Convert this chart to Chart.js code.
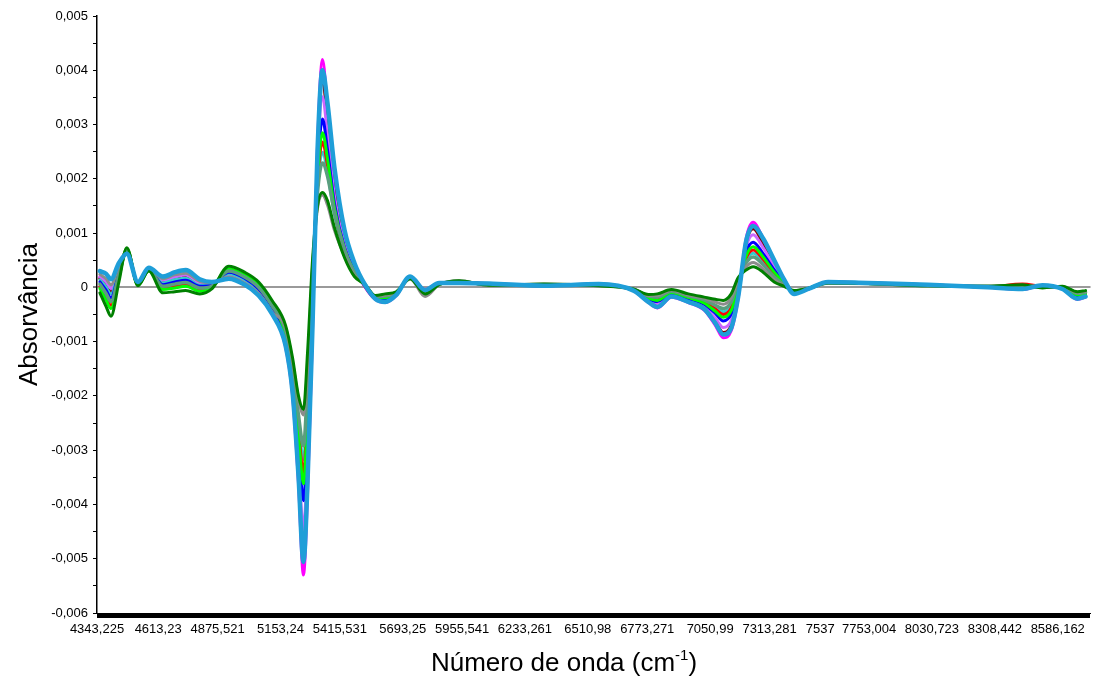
<!DOCTYPE html>
<html lang="pt-BR">
<head>
<meta charset="utf-8">
<title>Absorvância x número de onda</title>
<script src="https://cdn.jsdelivr.net/npm/chart.js@4.4.1/dist/chart.umd.min.js"></script>
<style>
  html, body { margin: 0; padding: 0; background: #fff; }
  canvas { display: block; }
</style>
</head>
<body>
<canvas id="grafico" width="1094" height="676"></canvas>
<script>
// eixo x: número de onda (cm-1) dos pontos lidos
const numeroOnda = [4356, 4383, 4405, 4440, 4475, 4524, 4572, 4634, 4687, 4735, 4797, 4850, 4925, 4995, 5057, 5118,
	5176, 5207, 5233, 5255, 5273, 5295, 5317, 5339, 5361, 5392, 5436, 5480, 5528, 5572, 5616, 5665, 5726, 5792, 5854,
	5942, 6074, 6317, 6559, 6713, 6779, 6818, 6880, 6955, 7025, 7074, 7109, 7144, 7175, 7210, 7241, 7285, 7334, 7378,
	7422, 7484, 7572, 7748, 8013, 8277, 8431, 8519, 8607, 8673, 8709];

const rotulosX = ['4343,225', '4613,23', '4875,521', '5153,24', '5415,531', '5693,25', '5955,541', '6233,261',
	'6510,98', '6773,271', '7050,99', '7313,281', '7537', '7753,004', '8030,723', '8308,442', '8586,162'];

const ticksY = [-0.006, -0.005, -0.004, -0.003, -0.002, -0.001, 0, 0.001, 0.002, 0.003, 0.004, 0.005];

// espectros (2a derivada), um array por amostra
const azulCeu = [0.0003, 0.00025, 0.00015, 0.00045, 0.00062, 0.0001, 0.00036, 0.0002, 0.00028, 0.00032, 0.00015, 0.0001, 0.00016, 0.00005, -0.00015, -0.0005,
	-0.00107, -0.00194, -0.00347, -0.00506, -0.00359, -0.0007, 0.00251, 0.004, 0.0034, 0.0022, 0.00106, 0.00045, 0.00004, -0.00021, -0.00027, -0.00014, 0.0002, -0.00005,
	0.00008, 0.00008, 0.00007, 0.00003, 0.00006, -0.00006, -0.00027, -0.00036, -0.00017, -0.00027, -0.0004, -0.00066, -0.00087, -0.00075, -0.00017, 0.00085, 0.00113,
	0.0009, 0.0005, 0.00014, -0.00012, -0.00003, 0.0001, 0.00008, 0.00005, 0, -0.00003, 0.00004, -0.00003, -0.00021, -0.00017];
const verdeEscuro = [-0.0001, -0.00035, -0.00053, 0.0001, 0.00073, 0.00003, 0.0003, -0.0001, -0.00008, -0.00006, -0.00012, -0.00003, 0.00039, 0.00028, 0.0001, -0.00025,
	-0.0007, -0.0013, -0.002, -0.00225, -0.0012, 0.0005, 0.0015, 0.00175, 0.0016, 0.0011, 0.00055, 0.0002, 0.00005, -0.00015, -0.00012, -0.00008, 0.00016, -0.00012,
	0.00005, 0.00012, 0.00004, 0.00006, 0.00003, -0.00003, -0.00013, -0.00012, -0.00004, -0.00012, -0.00018, -0.00022, -0.00024, -0.00012, 0.00018, 0.00032, 0.00038,
	0.00028, 0.0001, 0.00002, -0.00006, -0.00002, 0.00008, 0.00007, 0.00003, 0.00002, 0.00005, -0.00001, 0.00002, -0.00008, -0.00006];
const cinza = [0.00024, 0.00016, 0.00005, 0.0004, 0.00064, 0.00009, 0.00035, 0.00016, 0.00023, 0.00026, 0.00011, 0.00008, 0.00019, 0.00008, -0.00011, -0.00046,
	-0.00074, -0.00137, -0.00205, -0.00235, -0.00146, 0.00037, 0.00145, 0.0017, 0.00152, 0.00105, 0.00058, 0.00022, 0.00004, -0.00016, -0.00014, -0.00009, 0.00016, -0.00017,
	0.00005, 0.00012, 0.00004, 0.00006, 0.00003, -0.00003, -0.00015, -0.00015, -0.00005, -0.00014, -0.0002, -0.00027, -0.00031, -0.00019, 0.00014, 0.00038, 0.00046,
	0.00034, 0.00014, 0.00003, -0.00007, -0.00002, 0.00008, 0.00007, 0.00003, 0.00002, 0.00004, 0, 0.00001, -0.00009, -0.00007];
const verdeAcinzentado = [0.00006, -0.00011, -0.00026, 0.00024, 0.00069, 0.00006, 0.00032, 0.00002, 0.00006, 0.00009, -0.00001, 0.00002, 0.0003, 0.00019, 0, -0.00035,
	-0.00079, -0.00145, -0.00235, -0.00292, -0.00177, 0.00021, 0.00174, 0.00229, 0.00205, 0.00138, 0.0007, 0.00028, 0.00004, -0.00017, -0.00016, -0.0001, 0.00017, -0.0001,
	0.00006, 0.00011, 0.00005, 0.00005, 0.00004, -0.00004, -0.00016, -0.00018, -0.00007, -0.00016, -0.00023, -0.00033, -0.00039, -0.00027, 0.0001, 0.00045, 0.00056,
	0.00042, 0.00019, 0.00005, -0.00007, -0.00002, 0.00008, 0.00007, 0.00003, 0.00002, 0.00003, 0, 0.00001, -0.00011, -0.00009];
const verdeLimao = [-0.00002, -0.00023, -0.00039, 0.00017, 0.00071, 0.00004, 0.00031, -0.00004, -0.00001, 0.00002, -0.00007, 0, 0.00034, 0.00023, 0.00005, -0.0003,
	-0.00088, -0.00162, -0.00272, -0.00362, -0.00237, -0.00009, 0.002, 0.00285, 0.00237, 0.00146, 0.00071, 0.00029, 0.00003, -0.00018, -0.00019, -0.00011, 0.00018, -0.00008,
	0.00006, 0.0001, 0.00005, 0.00005, 0.00004, -0.00004, -0.0002, -0.00024, -0.0001, -0.00019, -0.00029, -0.00044, -0.00055, -0.00043, 0.00001, 0.00058, 0.00075,
	0.00056, 0.00028, 0.00008, -0.00009, -0.00002, 0.00009, 0.00007, 0.00004, 0.00001, 0.00001, 0.00002, 0, -0.00014, -0.00012];
const vermelho = [0.00002, -0.00017, -0.00033, 0.00021, 0.0007, 0.00005, 0.00032, -0.00001, 0.00003, 0.00005, -0.00004, 0.00001, 0.00032, 0.00021, 0.00002, -0.00032,
	-0.00085, -0.00157, -0.00261, -0.00341, -0.00219, 0.00001, 0.00192, 0.00268, 0.00225, 0.0014, 0.00068, 0.00028, 0.00003, -0.00018, -0.00018, -0.00011, 0.00018, -0.00009,
	0.00006, 0.0001, 0.00005, 0.00005, 0.00004, -0.00004, -0.00019, -0.00022, -0.00009, -0.00018, -0.00027, -0.0004, -0.0005, -0.00038, 0.00004, 0.00054, 0.00069,
	0.00052, 0.00025, 0.00007, -0.00008, -0.00002, 0.00009, 0.00007, 0.00004, 0.00001, 0.00006, 0.00002, 0, -0.00013, -0.00011];
const azul = [0.0001, -0.00005, -0.00019, 0.00028, 0.00068, 0.00007, 0.00033, 0.00005, 0.0001, 0.00013, 0.00002, 0.00004, 0.00028, 0.00017, -0.00003, -0.00038,
	-0.00092, -0.00169, -0.00288, -0.00393, -0.00263, -0.00022, 0.00211, 0.0031, 0.00254, 0.00154, 0.00074, 0.00031, 0.00002, -0.00019, -0.00021, -0.00012, 0.00018, -0.00008,
	0.00007, 0.0001, 0.00006, 0.00004, 0.00005, -0.00005, -0.00021, -0.00026, -0.00012, -0.00021, -0.00031, -0.00048, -0.00062, -0.00049, -0.00003, 0.00064, 0.00083,
	0.00062, 0.00032, 0.00009, -0.00009, -0.00003, 0.00009, 0.00008, 0.00004, 0.00001, 0, 0.00002, -0.00001, -0.00016, -0.00013];
const turquesa = [0.00014, 0.00001, -0.00012, 0.00031, 0.00066, 0.00007, 0.00034, 0.00008, 0.00014, 0.00017, 0.00004, 0.00005, 0.00025, 0.00014, -0.00005, -0.0004,
	-0.00082, -0.00151, -0.00248, -0.00317, -0.00198, 0.00011, 0.00183, 0.00249, 0.00211, 0.00134, 0.00066, 0.00026, 0.00004, -0.00017, -0.00017, -0.0001, 0.00017, -0.0001,
	0.00006, 0.00011, 0.00005, 0.00005, 0.00004, -0.00004, -0.00018, -0.0002, -0.00008, -0.00017, -0.00025, -0.00036, -0.00045, -0.00032, 0.00007, 0.00049, 0.00063,
	0.00047, 0.00022, 0.00006, -0.00008, -0.00002, 0.00009, 0.00007, 0.00004, 0.00001, 0.00002, 0.00001, 0.00001, -0.00012, -0.0001];
const violeta = [0.0002, 0.0001, -0.00002, 0.00036, 0.00065, 0.00008, 0.00035, 0.00013, 0.00019, 0.00023, 0.00008, 0.00007, 0.00022, 0.00011, -0.00009, -0.00044,
	-0.00099, -0.0018, -0.00315, -0.00445, -0.00307, -0.00044, 0.00229, 0.00351, 0.00282, 0.00168, 0.0008, 0.00034, 0.00001, -0.0002, -0.00024, -0.00013, 0.00019, -0.00006,
	0.00007, 0.00009, 0.00006, 0.00004, 0.00005, -0.00005, -0.00024, -0.00031, -0.00014, -0.00024, -0.00035, -0.00057, -0.00074, -0.00061, -0.00009, 0.00074, 0.00097,
	0.00073, 0.00039, 0.00011, -0.0001, -0.00003, 0.0001, 0.00008, 0.00004, 0.00001, -0.00002, 0.00003, -0.00002, -0.00018, -0.00015];
const vinho = [0.00016, 0.00004, -0.00009, 0.00033, 0.00066, 0.00008, 0.00034, 0.0001, 0.00015, 0.00019, 0.00006, 0.00005, 0.00024, 0.00013, -0.00006, -0.00041,
	-0.00104, -0.0019, -0.00336, -0.00484, -0.00341, -0.00061, 0.00244, 0.00383, 0.00305, 0.00178, 0.00085, 0.00037, 0.00001, -0.00021, -0.00026, -0.00014, 0.00019, -0.00005,
	0.00008, 0.00009, 0.00007, 0.00003, 0.00006, -0.00006, -0.00026, -0.00034, -0.00016, -0.00026, -0.00038, -0.00063, -0.00083, -0.0007, -0.00014, 0.00081, 0.00108,
	0.00081, 0.00044, 0.00013, -0.00011, -0.00003, 0.0001, 0.00008, 0.00005, 0, -0.00003, 0.00003, -0.00002, -0.0002, -0.00017];
const magenta = [0.00018, 0.00007, -0.00005, 0.00034, 0.00065, 0.00008, 0.00034, 0.00011, 0.00017, 0.00021, 0.00007, 0.00006, 0.00023, 0.00012, -0.00007, -0.00042,
	-0.0011, -0.002, -0.0036, -0.0053, -0.0038, -0.0008, 0.0026, 0.0042, 0.0033, 0.0019, 0.0009, 0.0004, 0, -0.00022, -0.00028, -0.00015, 0.0002, -0.00004,
	0.00008, 0.00008, 0.00007, 0.00003, 0.00006, -0.00006, -0.00028, -0.00038, -0.00018, -0.00028, -0.00042, -0.0007, -0.00093, -0.0008, -0.0002, 0.0009, 0.0012,
	0.0009, 0.0005, 0.00015, -0.00012, -0.00003, 0.0001, 0.00008, 0.00005, 0, -0.00004, 0.00004, -0.00003, -0.00022, -0.00018];

const fonte = "'Liberation Sans', Arial, Helvetica, sans-serif";
const paraNumero = (s) => Number(s.replace(',', '.'));
const formatar = (v) => v === 0 ? '0' : v.toFixed(3).replace('.', ',');

const X_MIN = paraNumero(rotulosX[0]);
const X_MAX = 8731;
const PASSO_MARCAS = 3.857; // uma marca por ponto do espectro

// o primeiro da lista fica por cima
const series = [
	['Amostra 1', '#1f9ed8', azulCeu, 4.5],
	['Amostra 2', '#008000', verdeEscuro, 3],
	['Amostra 3', '#8c8c8c', cinza, 3],
	['Amostra 4', '#5a9e7e', verdeAcinzentado, 3.5],
	['Amostra 5', '#00ff00', verdeLimao, 3],
	['Amostra 6', '#ff0000', vermelho, 3],
	['Amostra 7', '#0000ff', azul, 3],
	['Amostra 8', '#33cccc', turquesa, 3],
	['Amostra 9', '#cc66ff', violeta, 3],
	['Amostra 10', '#800000', vinho, 3],
	['Amostra 11', '#ff00ff', magenta, 3],
];

const rotuloPorValor = new Map(rotulosX.map((r) => [paraNumero(r), r]));

const tituloX = {
	id: 'tituloX',
	afterDraw(chart) {
		const ctx = chart.ctx;
		const partes = [
			['Número de onda (cm', `26px ${fonte}`, 0],
			['-1', `15px ${fonte}`, -11],
			[')', `26px ${fonte}`, 0],
		];
		ctx.save();
		ctx.fillStyle = '#000';
		ctx.textBaseline = 'alphabetic';
		let total = 0;
		partes.forEach(([t, f]) => { ctx.font = f; total += ctx.measureText(t).width; });
		let x = 564 - total / 2;
		partes.forEach(([t, f, dy]) => {
			ctx.font = f;
			ctx.fillText(t, x, 671 + dy);
			x += ctx.measureText(t).width;
		});
		ctx.restore();
	}
};

new Chart(document.getElementById('grafico'), {
	type: 'line',
	data: {
		datasets: series.map(([label, cor, valores, largura]) => ({
			label,
			data: valores.map((y, i) => ({x: numeroOnda[i], y})),
			borderColor: cor,
			backgroundColor: cor,
			borderWidth: largura,
			pointRadius: 0,
			fill: false,
			cubicInterpolationMode: 'monotone',
		}))
	},
	options: {
		responsive: false,
		devicePixelRatio: 1,
		animation: false,
		layout: {padding: {top: 16, right: 1, bottom: 0, left: 0}},
		plugins: {
			legend: {display: false},
			tooltip: {enabled: false},
		},
		elements: {line: {borderJoinStyle: 'round', borderCapStyle: 'round'}},
		scales: {
			x: {
				type: 'linear',
				min: X_MIN,
				max: X_MAX,
				border: {color: '#000', width: 1},
				grid: {drawOnChartArea: false, tickLength: 5, tickColor: '#000', tickWidth: 1},
				ticks: {
					autoSkip: false,
					maxRotation: 0,
					padding: 4,
					color: '#000',
					font: {size: 13, family: fonte},
					callback: (v) => rotuloPorValor.get(v) || '',
				},
				afterBuildTicks: (eixo) => {
					const lista = [];
					for (let v = X_MIN + PASSO_MARCAS; v <= X_MAX; v += PASSO_MARCAS) {
						lista.push({value: v});
					}
					rotuloPorValor.forEach((_, v) => lista.push({value: v}));
					lista.sort((a, b) => a.value - b.value);
					eixo.ticks = lista;
				},
				afterFit: (eixo) => { eixo.height = 63; },
			},
			y: {
				type: 'linear',
				min: -0.006,
				max: 0.005,
				z: 1,
				border: {color: '#000', width: 1.5},
				grid: {
					color: (c) => c.tick && c.tick.value === 0 ? '#9a9a9a' : 'rgba(0,0,0,0)',
					lineWidth: (c) => c.tick && c.tick.value === 0 ? 2 : 1,
					tickColor: '#000',
					tickWidth: 1,
					tickLength: 4,
				},
				ticks: {
					padding: 5,
					color: '#000',
					font: {size: 13, family: fonte},
					callback: (v) => ticksY.includes(v) ? formatar(v) : '',
				},
				afterBuildTicks: (eixo) => {
					const lista = [];
					ticksY.forEach((v, i) => {
						lista.push({value: v});
						if (i < ticksY.length - 1) {
							lista.push({value: (v + ticksY[i + 1]) / 2});
						}
					});
					eixo.ticks = lista;
				},
				afterFit: (eixo) => { eixo.width = 97; },
				title: {
					display: true,
					text: 'Absorvância',
					color: '#000',
					font: {size: 26, family: fonte},
					padding: {top: 14, bottom: 0},
				},
			},
		},
	},
	plugins: [tituloX],
});
</script>
</body>
</html>
